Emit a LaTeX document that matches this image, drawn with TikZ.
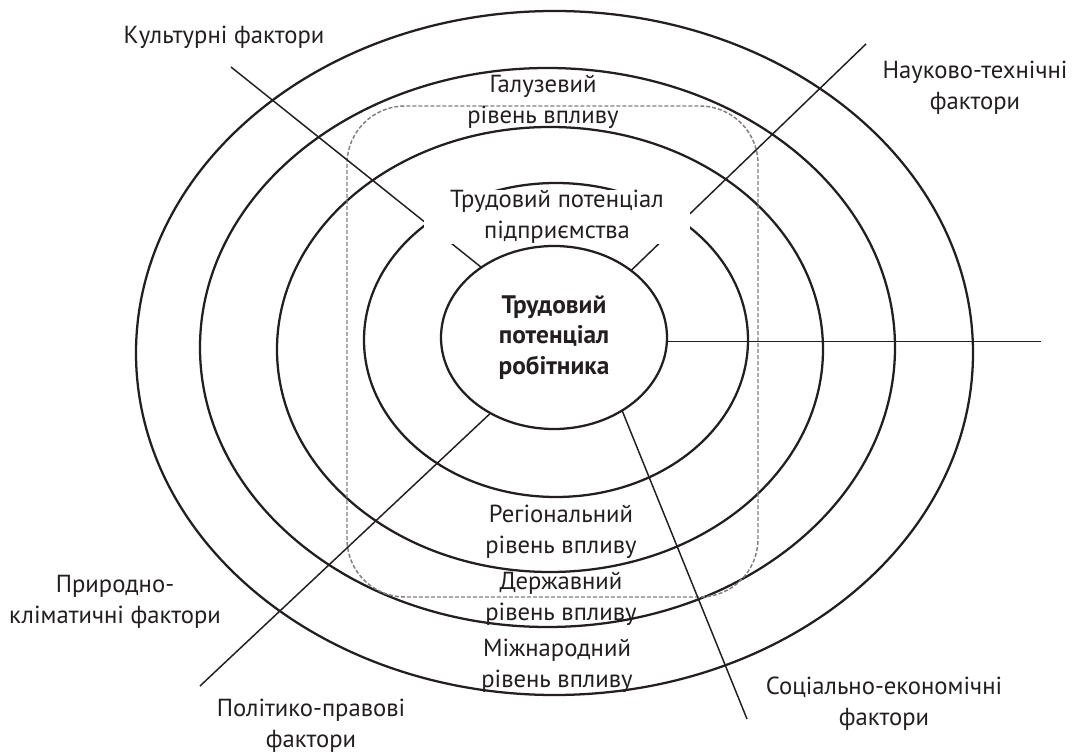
\documentclass[tikz,border=0pt]{standalone}
\usepackage{fontspec}
\setmainfont{PT Sans}
\usetikzlibrary{shapes.geometric}
\definecolor{ink}{HTML}{231F20}
\definecolor{dashgrey}{HTML}{808080}
\begin{document}
\begin{tikzpicture}[x=0.75pt,y=-0.75pt,
  ring/.style={line width=1.7pt, draw=ink},
  ray/.style={line width=1.1pt, draw=ink},
  zone/.style={line width=1.1pt, draw=dashgrey, dash pattern=on 3pt off 1.5pt, rounded corners=43.5pt},
  lbl/.style={font=\fontsize{18.5}{23.5}\selectfont, text=ink, align=center, inner sep=0pt},
  core/.style={ellipse, draw=ink, line width=1.7pt, inner sep=0pt, outer sep=0pt,
    minimum width=169.5pt, minimum height=137.25pt,
    font=\fontsize{19}{23}\selectfont\bfseries, text=ink, align=center},
  mask/.style={fill=white, inner sep=0pt, minimum width=199.5pt, minimum height=34.5pt,
    font=\fontsize{18.5}{23}\selectfont, text=ink, align=center},
]
\useasboundingbox (0,0) rectangle (1076,755);
\fill[white] (0,0) rectangle (1076,755);

% levels of influence
\draw[ring] (554.5,353) ellipse [x radius=418.5, y radius=342];
\draw[ring] (547.5,347.5) ellipse [x radius=347.5, y radius=279.5];
\draw[ring] (550,349.5) ellipse [x radius=273, y radius=222.5];
\draw[ring] (556,340) ellipse [x radius=192, y radius=157];

% enterprise boundary
\draw[zone] (347,106) rectangle (758,597);

% worker potential at the centre
\node[core] (worker) at (554,337.5) {Трудовий\\потенціал\\робітника};

% factor rays
\coordinate (cultEnd) at (231,67);
\coordinate (sciEnd) at (866,44);
\coordinate (horEnd) at (1041,343);
\coordinate (polEnd) at (200,686);
\coordinate (socEnd) at (747,719);
\draw[ray] (cultEnd) -- (worker.136.8);
\draw[ray] (sciEnd) -- (worker.41.3);
\draw[ray] (worker.-2.8) -- (worker.-2.8 -| horEnd);
\draw[ray] (polEnd) -- (worker.-130.3);
\draw[ray] (socEnd) -- (worker.-47.6);

% enterprise label over the rays
\node[mask] (enterprise) at (557,217) {Трудовий потенціал\\підприємства};

% level labels
\node[lbl] (branch) at (543,102) {Галузевий\\рівень впливу};
\node[lbl] (region) at (561,532) {Регіональний\\рівень впливу};
\node[lbl] (state) at (561,599) {Державний\\рівень впливу};
\node[lbl] (intl) at (557,666) {Міжнародний\\рівень впливу};

% factor labels
\node[lbl] (culture) at (224,37) {Культурні фактори};
\node[lbl] (science) at (975,88) {Науково-технічні\\фактори};
\node[lbl] (nature) at (115,602) {Природно-\\кліматичні фактори};
\node[lbl] (politics) at (311,726) {Політико-правові\\фактори};
\node[lbl] (social) at (884,704) {Соціально-економічні\\фактори};
\end{tikzpicture}
\end{document}
